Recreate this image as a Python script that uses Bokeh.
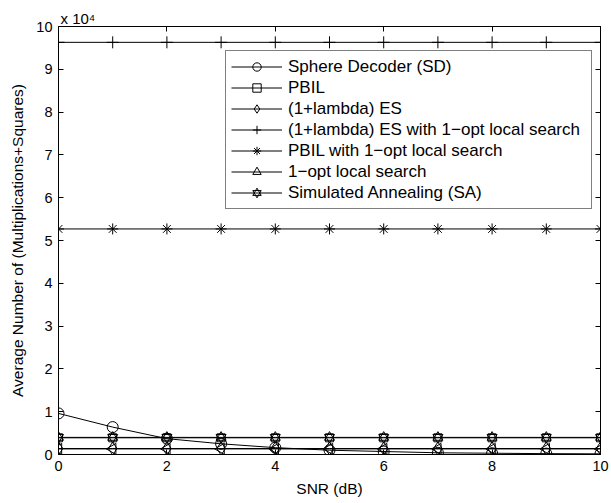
import numpy as np
from bokeh.plotting import figure
from bokeh.models import (Range1d, FixedTicker, Legend, LegendItem, Title, LinearAxis)
from bokeh.embed import file_html
from bokeh.resources import INLINE

# ---- data ----
snr = [0, 1, 2, 3, 4, 5, 6, 7, 8, 9, 10]
sd = [9600, 6400, 3700, 2500, 1600, 1000, 700, 400, 300, 200, 150]
pbil = [3900, 3900, 3900, 3900, 3900, 3900, 3900, 3900, 3900, 3900, 3900]
es = [1400, 1400, 1400, 1400, 1400, 1400, 1400, 1400, 1400, 1400, 1400]
es_1opt = [96300, 96300, 96300, 96300, 96300, 96300, 96300, 96300, 96300, 96300, 96300]
pbil_1opt = [52700, 52700, 52700, 52700, 52700, 52700, 52700, 52700, 52700, 52700, 52700]
opt1 = [1300, 1300, 1300, 1300, 1300, 1300, 1300, 1300, 1300, 1300, 1300]
sa = [4000, 4000, 4000, 4000, 4000, 4000, 4000, 4000, 4000, 4000, 4000]

labels = ["Sphere Decoder (SD)", "PBIL", "(1+lambda) ES",
          "(1+lambda) ES with 1\u2212opt local search", "PBIL with 1\u2212opt local search",
          "1\u2212opt local search", "Simulated Annealing (SA)"]

x_ticks = [0, 2, 4, 6, 8, 10]
y_ticks = [0, 10000, 20000, 30000, 40000, 50000, 60000, 70000, 80000, 90000, 100000]
y_tick_labels = ["0", "1", "2", "3", "4", "5", "6", "7", "8", "9", "10"]
y_multiplier = "x 10\u2074"

FONT = "Liberation Sans"

p = figure(width=611, height=503, x_range=Range1d(0, 10), y_range=Range1d(0, 100000),
           output_backend="svg", toolbar_location=None,
           min_border_left=58, min_border_right=11, min_border_top=26, min_border_bottom=49)
p.xgrid.visible = False
p.ygrid.visible = False
p.outline_line_color = "black"
p.outline_line_width = 1
p.background_fill_color = "white"
p.border_fill_color = "white"

def style_axis(ax, show_labels=True):
    ax.axis_line_color = "black"
    ax.major_tick_in = 5
    ax.major_tick_out = 0
    ax.minor_tick_line_color = None
    ax.major_label_text_font = FONT
    ax.major_label_text_font_size = "14.5px"
    ax.major_label_text_color = "black"
    ax.axis_label_text_font = FONT
    ax.axis_label_text_font_size = "15.5px"
    ax.axis_label_text_font_style = "normal"
    ax.axis_label_text_color = "black"
    if not show_labels:
        ax.major_label_text_font_size = "0px"
        ax.major_label_text_color = None

p.xaxis.ticker = FixedTicker(ticks=x_ticks)
p.yaxis.ticker = FixedTicker(ticks=y_ticks)
p.yaxis.major_label_overrides = {t: l for t, l in zip(y_ticks, y_tick_labels)}
p.xaxis.axis_label = "SNR (dB)"
p.yaxis.axis_label = "Average Number of (Multiplications+Squares)"
style_axis(p.xaxis[0])
style_axis(p.yaxis[0])
p.xaxis.major_label_standoff = 6
p.yaxis.major_label_standoff = 6
p.xaxis.axis_label_standoff = 6
p.yaxis.axis_label_standoff = 7

top = LinearAxis(ticker=FixedTicker(ticks=x_ticks))
style_axis(top, False)
right = LinearAxis(ticker=FixedTicker(ticks=y_ticks))
style_axis(right, False)
p.add_layout(top, "above")
p.add_layout(right, "right")

p.add_layout(Title(text=y_multiplier, align="left", offset=2, text_font=FONT,
                   text_font_size="15px", text_font_style="normal", text_color="black",
                   standoff=0), "above")

kw = dict(line_color="black", line_width=1)
mk = dict(line_color="black", line_width=1, fill_alpha=0)

items = []
l = p.line(snr, sd, **kw)
s = p.scatter(snr, sd, marker="circle", size=11, **mk)
items.append(LegendItem(label=labels[0], renderers=[l, s]))

l = p.line(snr, pbil, **kw)
s = p.scatter(snr, pbil, marker="square", size=8, **mk)
items.append(LegendItem(label=labels[1], renderers=[l, s]))

l = p.line(snr, es, **kw)
s = p.scatter(snr, es, marker="diamond", size=13, **mk)
items.append(LegendItem(label=labels[2], renderers=[l, s]))

l = p.line(snr, es_1opt, **kw)
s = p.scatter(snr, es_1opt, marker="cross", size=12, **mk)
items.append(LegendItem(label=labels[3], renderers=[l, s]))

l = p.line(snr, pbil_1opt, **kw)
s = p.scatter(snr, pbil_1opt, marker="asterisk", size=11, **mk)
items.append(LegendItem(label=labels[4], renderers=[l, s]))

l = p.line(snr, opt1, **kw)
s = p.scatter(snr, opt1, marker="triangle", size=11, angle=np.pi / 2, **mk)
items.append(LegendItem(label=labels[5], renderers=[l, s]))

l = p.line(snr, sa, **kw)
s1 = p.scatter(snr, sa, marker="triangle", size=10, **mk)
s2 = p.scatter(snr, sa, marker="inverted_triangle", size=10, **mk)
items.append(LegendItem(label=labels[6], renderers=[l, s1, s2]))

legend = Legend(items=items, location=(167, 245), orientation="vertical")
legend.border_line_color = "black"
legend.border_line_width = 1
legend.background_fill_color = "white"
legend.background_fill_alpha = 1
legend.label_text_font = FONT
legend.label_text_font_size = "17px"
legend.label_text_color = "black"
legend.padding = 5
legend.margin = 0
legend.spacing = 0
legend.glyph_height = 21
legend.label_height = 21
legend.glyph_width = 51
legend.label_standoff = 6
legend.label_width = 298
p.add_layout(legend, "center")

open("out.html", "w").write(file_html(p, INLINE))
